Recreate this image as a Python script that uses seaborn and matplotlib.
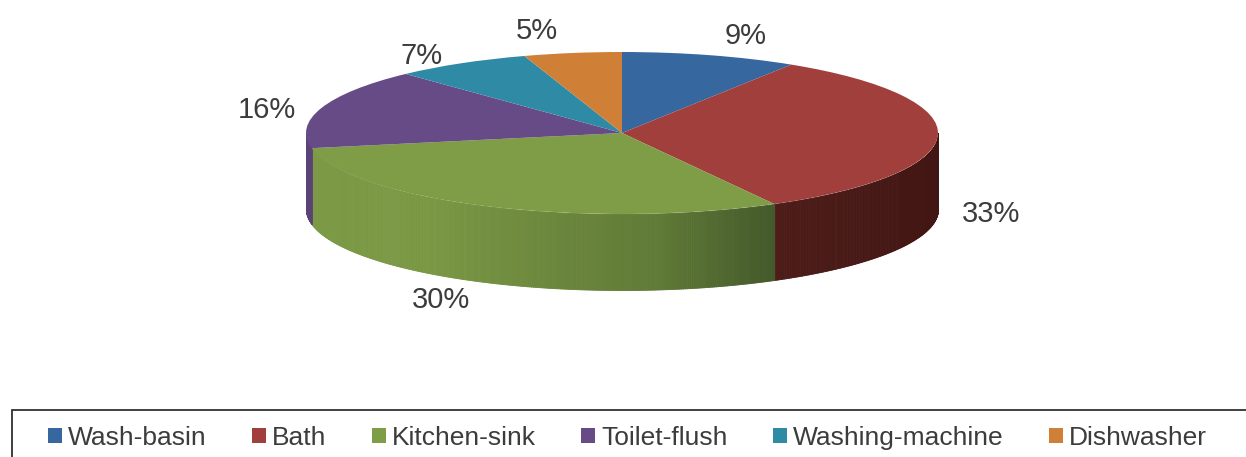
import numpy as np
import seaborn as sns
import matplotlib.pyplot as plt
import matplotlib.colors as mcolors
from matplotlib.patches import Rectangle

categories = ['Wash-basin', 'Bath', 'Kitchen-sink', 'Toilet-flush', 'Washing-machine', 'Dishwasher']
values = [9, 33, 30, 16, 7, 5]
top_colors = ['#37679f', '#a03f3c', '#7f9c46', '#664b86', '#2f8aa5', '#d07f36']
wall_colors = [
    ['#22406a', '#22406a'],
    ['#4d1c18', '#421614'],
    ['#7c9a46', '#7a9844', '#6c883d', '#5f7a36', '#43592a'],
    ['#5b4377', '#5b4377'],
    ['#1f5f72', '#1f5f72'],
    ['#8a5424', '#8a5424'],
]
label_pos = [(746, 36), (991, 214), (441, 300), (267, 110), (422, 56), (537, 31)]

W, H = 1246, 457
cx, cy, rx, ry, depth = 622, 133, 316, 81, 76

sns.set_theme(style='white')
plt.rcParams['font.family'] = ['Liberation Sans', 'DejaVu Sans']
palette = sns.color_palette(top_colors)

fig = plt.figure(figsize=(W / 100, H / 100), dpi=100)
ax = fig.add_axes([0, 0, 1, 1])

## top of the pie
wedges, _ = ax.pie(values, colors=palette, startangle=90, counterclock=False,
                   wedgeprops={'linewidth': 0})
ax.set_aspect('auto')
ax.set_xlim(-cx / rx, (W - cx) / rx)
ax.set_ylim((cy - H) / ry, cy / ry)
ax.axis('off')

## side wall, only the front half shows
d = depth / ry
fracs = np.cumsum([0] + values) / sum(values)
for i in range(len(values)):
    a0 = np.pi / 2 - 2 * np.pi * fracs[i + 1]
    a1 = np.pi / 2 - 2 * np.pi * fracs[i]
    th = np.linspace(a0, a1, 300)
    th = th[np.sin(th) <= 0]
    if len(th) < 2:
        continue
    x = np.cos(th)
    cmap = mcolors.LinearSegmentedColormap.from_list('w', wall_colors[i])
    lo, hi = x.min(), x.max()
    for j in range(len(th) - 1):
        c = cmap((x[j] - lo) / (hi - lo))
        # no antialiasing here, the strips show seams otherwise
        ax.fill_between(x[j:j + 2], np.sin(th[j:j + 2]), np.sin(th[j:j + 2]) - d,
                        color=c, linewidth=0.6, antialiased=False, zorder=0.5)

## percent labels
for v, (px, py) in zip(values, label_pos):
    fig.text(px / W, 1 - py / H, f'{v}%', ha='center', va='center',
             fontsize=21, color='#3c3c3c')

## legend box runs off the bottom of the picture
fig.add_artist(Rectangle((12 / W, -0.05), (W + 20) / W, 1 - 410 / H + 0.05,
                         transform=fig.transFigure, fill=False,
                         edgecolor='#303030', linewidth=1.3))
fig.legend(wedges, categories, ncol=6, frameon=False, fontsize=19,
           loc='center left', bbox_to_anchor=(24 / W, 1 - 438 / H),
           handlelength=0.53, handleheight=0.53, handletextpad=0.23,
           columnspacing=1.72, labelcolor='#3c3c3c')

fig.savefig('out.png', dpi=100)
